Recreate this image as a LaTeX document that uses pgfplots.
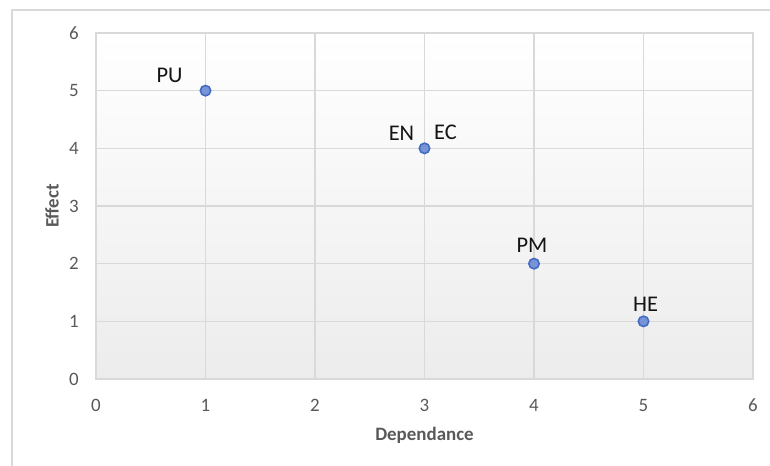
\documentclass[border=0pt]{standalone}
\usepackage{pgfplots}
\pgfplotsset{compat=1.18}
\usepackage{fontspec}
\setmainfont{Carlito}
\definecolor{gridc}{RGB}{217,217,217}
\definecolor{tickc}{RGB}{89,89,89}
\definecolor{mfill}{RGB}{120,148,214}
\definecolor{mdraw}{RGB}{68,108,196}
\definecolor{bgbot}{RGB}{236,236,236}
\begin{document}
\begin{tikzpicture}[x=1bp,y=1bp]
\useasboundingbox (0,0) rectangle (770,466);
\draw[gridc, line width=1.8bp] (12,0) -- (12,456) -- (770,456);
\begin{axis}[
  at={(96bp,87bp)}, anchor=south west,
  scale only axis, width=657bp, height=346bp,
  xmin=0, xmax=6, ymin=0, ymax=6,
  xtick={0,...,6}, ytick={0,...,6},
  grid=major,
  major grid style={gridc, line width=1.6bp},
  axis line style={gridc, line width=1.6bp},
  major tick length=0pt,
  /pgf/number format/assume math mode=true,
  axis background/.style={shade, top color=white, bottom color=bgbot},
  xticklabel style={anchor=center, yshift=-26bp, font=\fontsize{19}{21}\selectfont, text=tickc},
  yticklabel style={anchor=east, inner sep=0pt, xshift=-17bp, font=\fontsize{19}{21}\selectfont, text=tickc},
  xlabel={Dependance}, ylabel={Effect},
  every axis x label/.style={at={([yshift=-56bp]axis description cs:0.5,0)}, anchor=center, font=\bfseries\fontsize{19}{21}\selectfont, text=tickc},
  every axis y label/.style={at={([xshift=-44bp]axis description cs:0,0.5)}, anchor=center, rotate=90, font=\bfseries\fontsize{19}{21}\selectfont, text=tickc},
  clip=false,
]
\addplot[only marks, mark=*, mark size=5.2bp, mark options={fill=mfill, draw=mdraw, line width=1.6bp}] table {
x y
1 5
3 4
4 2
5 1
};
\addplot[draw=none, mark=none,
  visualization depends on={\thisrow{dx}\as\dx},
  visualization depends on={\thisrow{dy}\as\dy},
  nodes near coords,
  point meta=explicit symbolic,
  every node near coord/.append style={anchor=center, xshift=\dx bp, yshift=\dy bp, font=\fontsize{22.5}{25}\selectfont, text=black!92},
] table[meta=label] {
x y label dx dy
1 5 PU -36 15
3 4 EN -23 15
3 4 EC 21 16.5
4 2 PM -2 18
5 1 HE 2 17
};
\end{axis}
\end{tikzpicture}
\end{document}
